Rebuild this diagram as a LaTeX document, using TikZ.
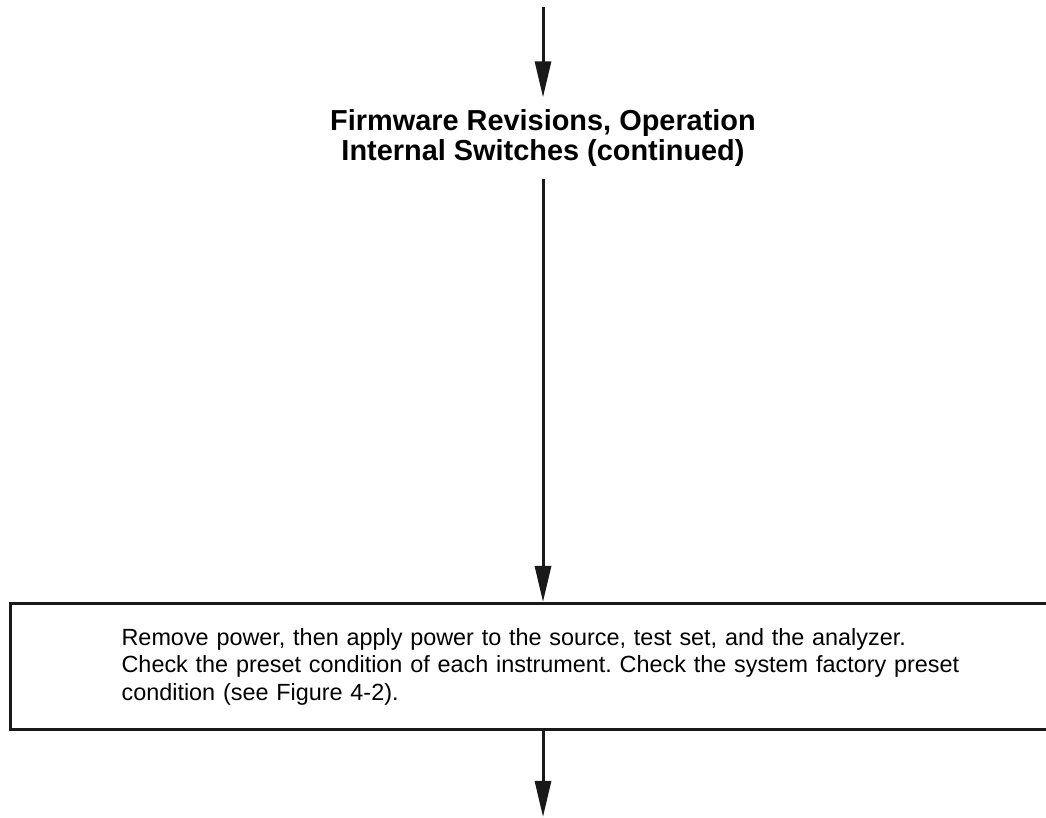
\documentclass[tikz,border=0pt]{standalone}
\usepackage{fontspec}
\setmainfont{Liberation Sans}
\usetikzlibrary{arrows.meta}
\frenchspacing

\begin{document}
\begin{tikzpicture}[x=1pt, y=1pt, line cap=butt, line join=miter,
  flow/.style={line width=3pt, draw=black!90, -{Triangle[width=16pt,length=36pt]}},
  heading/.style={align=center, inner xsep=0pt, inner ysep=12pt,
    font=\fontsize{28.9}{30}\selectfont\bfseries},
  procbox/.style={draw=black!90, line width=3.2pt, anchor=north west,
    minimum height=126pt, inner xsep=111pt,
    text width=900pt, align=left, font=\fontsize{23.4}{27.5}\selectfont}]

% ----------------- Page frame -----------------
\useasboundingbox (0,0) rectangle (1046,818);

% ----------------- Parameters -----------------
\def\xc{543}      % x of the flow line

% ----------------- Nodes -----------------
\coordinate (entry) at (\xc,811);
\node[heading] (title) at (\xc,680)
  {Firmware Revisions, Operation\\Internal Switches (continued)};

\node[procbox] (preset) at (9,216)
  {Remove power, then apply power to the source, test set, and the analyzer.\\
   Check the preset condition of each instrument. Check the system factory preset\\
   condition (see Figure 4-2).};

\coordinate (exit) at (\xc,1);

% ----------------- Flow arrows -----------------
\draw[flow] (entry) -- (title.north);
\draw[flow] (title.south) -- (preset.north -| title.south);
\draw[flow] (preset.south -| title.south) -- (exit);

\end{tikzpicture}
\end{document}
